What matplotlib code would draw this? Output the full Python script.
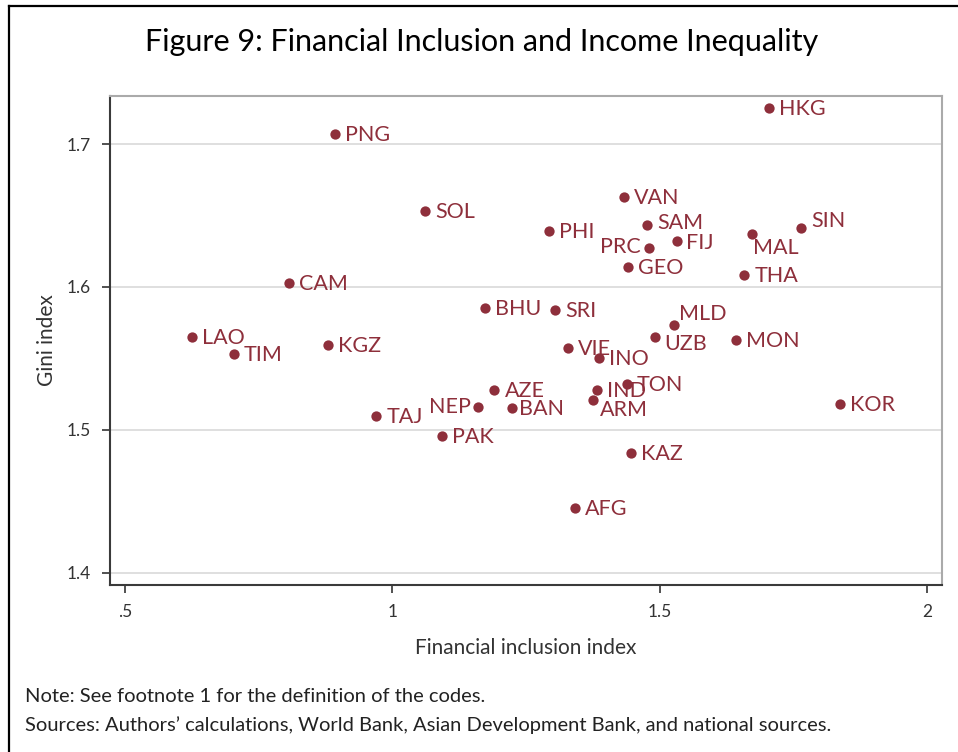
import matplotlib
matplotlib.use("Agg")
import matplotlib.pyplot as plt
from matplotlib.lines import Line2D

plt.rcParams["font.family"] = ["Lato", "DejaVu Sans"]

# economy codes, financial inclusion index (x), gini index (y)
codes = ["HKG", "PNG", "SOL", "VAN", "SAM", "PHI", "PRC", "FIJ", "MAL", "SIN",
         "GEO", "THA", "CAM", "BHU", "SRI", "MLD", "UZB", "MON", "LAO", "TIM",
         "KGZ", "VIE", "INO", "AZE", "TON", "IND", "ARM", "NEP", "BAN", "KOR",
         "TAJ", "PAK", "KAZ", "AFG"]
fin_incl = [1.704, 0.893, 1.062, 1.433, 1.476, 1.293, 1.480, 1.532, 1.673, 1.764,
            1.440, 1.658, 0.807, 1.173, 1.304, 1.526, 1.491, 1.643, 0.625, 0.703,
            0.879, 1.328, 1.386, 1.191, 1.438, 1.383, 1.375, 1.160, 1.224, 1.837,
            0.970, 1.093, 1.446, 1.342]
gini = [1.725, 1.707, 1.653, 1.663, 1.643, 1.639, 1.627, 1.632, 1.637, 1.641,
        1.614, 1.608, 1.603, 1.585, 1.584, 1.573, 1.565, 1.563, 1.565, 1.553,
        1.559, 1.557, 1.550, 1.528, 1.532, 1.528, 1.521, 1.516, 1.515, 1.518,
        1.510, 1.496, 1.484, 1.445]

x_ticks = [0.5, 1, 1.5, 2]
x_ticklabels = [".5", "1", "1.5", "2"]
y_ticks = [1.4, 1.5, 1.6, 1.7]
y_ticklabels = ["1.4", "1.5", "1.6", "1.7"]

red = "#8e2f3b"

# label placement (pixel offsets) where it is not simply to the right
default_off = (10, -1, "left")
label_off = {
    "PRC": (-8, 1, "right"),
    "NEP": (-7, 0, "right"),
    "MAL": (1, -14, "left"),
    "SIN": (10, 7, "left"),
    "MLD": (5, 11, "left"),
    "UZB": (9, -7, "left"),
    "ARM": (7, -10, "left"),
    "BAN": (7, -1, "left"),
    "SAM": (10, 2, "left"),
    "FIJ": (9, -2, "left"),
}

fig = plt.figure(figsize=(9.58, 7.52), dpi=100)
ax = fig.add_axes([110 / 958, 1 - 585 / 752, 832 / 958, (585 - 95.7) / 752])

ax.scatter(fin_incl, gini, s=55, color=red, zorder=3, linewidths=0)
for c, x, y in zip(codes, fin_incl, gini):
    dx, dy, ha = label_off.get(c, default_off)
    ax.annotate(c, (x, y), xytext=(dx, dy), textcoords="offset pixels",
                ha=ha, va="center", color=red, fontsize=15.5, zorder=4)

ax.set_xlim(0.472, 2.028)
ax.set_ylim(1.3914, 1.7338)
ax.set_xticks(x_ticks)
ax.set_xticklabels(x_ticklabels)
ax.set_yticks(y_ticks)
ax.set_yticklabels(y_ticklabels)
ax.tick_params(length=6, width=1.2, color="#333333", labelcolor="#333333",
               labelsize=12.5, pad=8)
ax.grid(axis="y", color="#d9d9d9", lw=1.2, zorder=0)
ax.set_axisbelow(True)

for side in ["left", "bottom"]:
    ax.spines[side].set_color("#3a3a3a")
    ax.spines[side].set_linewidth(1.5)
for side in ["top", "right"]:
    ax.spines[side].set_color("#aaaaaa")
    ax.spines[side].set_linewidth(1.5)

ax.set_xlabel("Financial inclusion index", fontsize=15, color="#333333", labelpad=13)
ax.set_ylabel("Gini index", fontsize=15, color="#333333", labelpad=7)

fig.text(482 / 958, 1 - 42 / 752, "Figure 9: Financial Inclusion and Income Inequality",
         ha="center", va="center", fontsize=22, color="black")
fig.text(25 / 958, 1 - 697 / 752, "Note: See footnote 1 for the definition of the codes.",
         ha="left", va="center", fontsize=14.5, color="#222222")
fig.text(25 / 958, 1 - 725 / 752,
         "Sources: Authors\u2019 calculations, World Bank, Asian Development Bank, and national sources.",
         ha="left", va="center", fontsize=14.5, color="#222222")

# outer frame (left and top only)
fig.add_artist(Line2D([9 / 958, 9 / 958], [0, 1 - 6 / 752], transform=fig.transFigure,
                      color="black", lw=1.6))
fig.add_artist(Line2D([9 / 958, 1], [1 - 6 / 752, 1 - 6 / 752], transform=fig.transFigure,
                      color="black", lw=1.6))

fig.savefig("out.png", dpi=100)
